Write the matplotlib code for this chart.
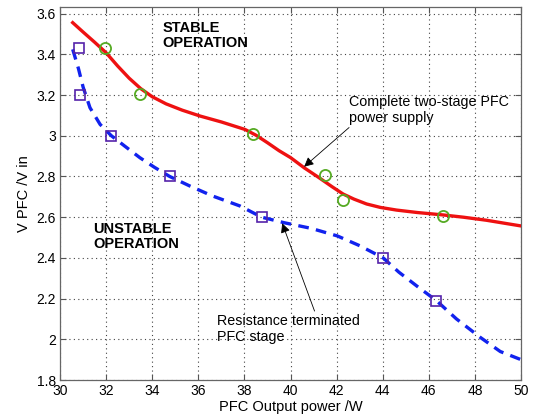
import matplotlib
matplotlib.use("Agg")
import matplotlib.pyplot as plt

plt.rcParams['font.family'] = ['Liberation Sans', 'DejaVu Sans']

# Complete two-stage PFC supply (red curve)
red_x = [30.55, 31.0, 31.5, 32.0, 32.5, 33.0, 33.5, 34.0, 34.6, 35.3, 36.08, 37.0, 38.03, 38.5, 39.0, 39.5, 40.0, 40.59, 41.2, 41.8, 42.28, 42.75, 43.3, 43.9, 44.6, 45.5, 46.63, 47.5, 48.5, 49.3, 50.0]
red_y = [3.556, 3.51, 3.46, 3.408, 3.343, 3.283, 3.232, 3.192, 3.157, 3.126, 3.097, 3.068, 3.031, 3.003, 2.966, 2.927, 2.893, 2.843, 2.797, 2.75, 2.714, 2.689, 2.665, 2.648, 2.635, 2.623, 2.611, 2.600, 2.585, 2.570, 2.557]

# Resistance terminated PFC stage (blue dashed curve)
blue_x = [30.55, 30.8, 31.0, 31.3, 31.74, 32.23, 32.8, 33.47, 34.1, 34.76, 35.6, 36.6, 37.81, 38.75, 39.72, 40.9, 42.03, 43.0, 44.02, 44.7, 45.5, 46.33, 47.2, 48.25, 49.1, 50.0]
blue_y = [3.425, 3.33, 3.24, 3.138, 3.056, 3.0, 2.95, 2.892, 2.845, 2.8, 2.755, 2.705, 2.655, 2.60, 2.573, 2.545, 2.508, 2.46, 2.40, 2.33, 2.26, 2.19, 2.10, 2.008, 1.94, 1.90]

# Measured points
circ_x = [31.97, 33.48, 38.39, 41.51, 42.28, 46.63]
circ_y = [3.433, 3.205, 3.007, 2.809, 2.683, 2.605]
sq_x = [30.82, 30.88, 32.23, 34.76, 38.75, 44.02, 46.33]
sq_y = [3.43, 3.20, 3.0, 2.8, 2.6, 2.4, 2.19]

xticks = [30, 32, 34, 36, 38, 40, 42, 44, 46, 48, 50]
yticks = [1.8, 2.0, 2.2, 2.4, 2.6, 2.8, 3.0, 3.2, 3.4, 3.6]
ytick_labels = ['1.8', '2', '2.2', '2.4', '2.6', '2.8', '3', '3.2', '3.4', '3.6']

fig = plt.figure(figsize=(5.34, 4.18), dpi=100)
ax = fig.add_axes([0.1124, 0.0909, 0.8633, 0.8924])

ax.plot(red_x, red_y, color='#ee1111', lw=2.4, zorder=3)
ax.plot(blue_x, blue_y, color='#1122ee', lw=2.4, ls=(0, (3.2, 2.2)), zorder=3)
ax.plot(circ_x, circ_y, 'o', ms=8, mfc='none', mec='#55aa22', mew=1.3, zorder=4)
ax.plot(sq_x, sq_y, 's', ms=6.5, mfc='none', mec='#5522aa', mew=1.2, zorder=4)

ax.set_xlim(30, 50)
ax.set_ylim(1.8, 3.633)
ax.set_xticks(xticks)
ax.set_xticklabels([str(t) for t in xticks])
ax.set_yticks(yticks)
ax.set_yticklabels(ytick_labels)
ax.tick_params(direction='in', length=4, labelsize=10, top=True, right=True, color='#555555', pad=3)
ax.grid(True, ls=(0, (1, 3)), color='#444444', lw=0.8)
for s in ax.spines.values():
    s.set_color('#666666')
    s.set_linewidth(0.9)

ax.set_xlabel('PFC Output power /W', fontsize=10.5, labelpad=1)
ax.set_ylabel('V PFC /V in', fontsize=10.5, labelpad=4)

ax.text(34.43, 3.565, 'STABLE\nOPERATION', fontsize=10.5, fontweight='bold', va='top', ha='left', linespacing=1.1)
ax.text(31.43, 2.578, 'UNSTABLE\nOPERATION', fontsize=10.5, fontweight='bold', va='top', ha='left', linespacing=1.1)

ax.annotate('Complete two-stage PFC\npower supply', xy=(40.59, 2.848), xytext=(42.54, 3.2),
            fontsize=10.3, va='top', ha='left', linespacing=1.15,
            arrowprops=dict(arrowstyle='-|>', color='black', lw=0.6, mutation_scale=14,
                            shrinkA=0, shrinkB=0, relpos=(0.02, 0.0)))
ax.annotate('Resistance terminated\nPFC stage', xy=(39.64, 2.57), xytext=(36.81, 2.125),
            fontsize=10.3, va='top', ha='left', linespacing=1.15,
            arrowprops=dict(arrowstyle='-|>', color='black', lw=0.6, mutation_scale=14,
                            shrinkA=0, shrinkB=0, relpos=(0.69, 1.0)))

fig.savefig('out.png', dpi=100)
